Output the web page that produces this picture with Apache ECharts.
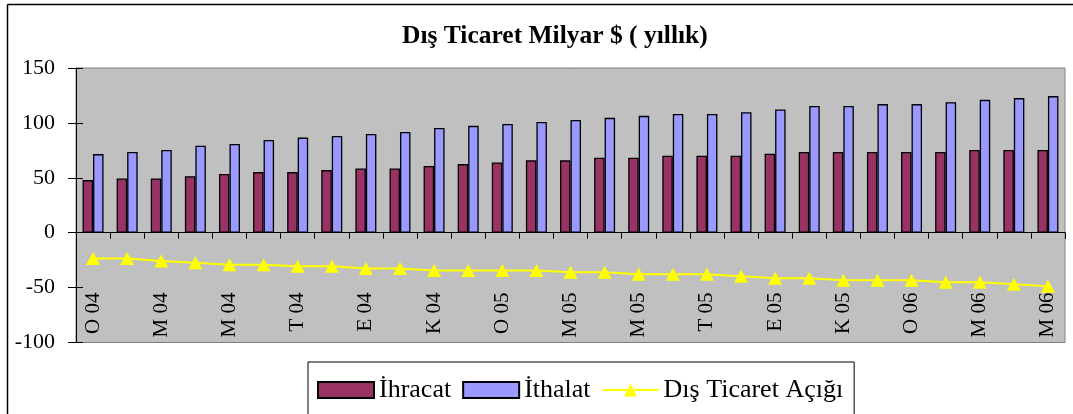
<!DOCTYPE html>
<html>
<head>
<meta charset="utf-8">
<script src="https://cdn.jsdelivr.net/npm/echarts@6/dist/echarts.min.js"></script>
<style>
html,body{margin:0;padding:0;background:#fff;}
#chart{width:1073px;height:414px;}
</style>
</head>
<body>
<div id="chart"></div>
<script>
// aylar: Ocak 2004 - Mayıs 2006
var aylar = ['O 04','Ş 04','M 04','N 04','M 04','H 04','T 04','A 04','E 04','E 04','K 04','A 04',
	'O 05','Ş 05','M 05','N 05','M 05','H 05','T 05','A 05','E 05','E 05','K 05','A 05',
	'O 06','Ş 06','M 06','N 06','M 06'];
var ihracat = [47.9,49.4,49.4,51.5,53.4,55.2,55.2,57.0,58.5,58.5,60.7,62.5,64.0,65.9,
	65.9,68.3,68.3,70.1,70.1,70.1,72.0,73.5,73.5,73.5,73.5,73.5,75.3,75.3,75.3];
var ithalat = [71.6,73.5,75.3,79.3,80.8,84.5,86.6,88.1,89.9,91.8,95.4,97.3,99.1,100.9,
	102.7,104.6,106.4,108.2,108.2,109.8,112.2,115.5,115.5,117.1,117.1,118.9,121.0,122.6,124.4];
var acik = [-23.6,-23.6,-25.8,-27.3,-29.1,-29.1,-30.6,-30.6,-32.7,-32.7,-34.5,-34.5,-34.5,-34.5,
	-36.1,-36.1,-37.9,-37.9,-37.9,-39.7,-41.5,-41.5,-43.3,-43.3,-43.3,-45.2,-45.2,-47.0,-48.8];
var yTicks = {min: -100, max: 150, interval: 50};

var font = '"Liberation Serif", "Times New Roman", serif';

var myChart = echarts.init(document.getElementById('chart'));
var option = {
	animation: false,
	title: {
		text: 'Dış Ticaret Milyar $ ( yıllık)',
		left: 402,
		top: 23,
		padding: 0,
		textStyle: {fontFamily: font, fontSize: 25.5, fontWeight: 'bold', color: '#000'}
	},
	graphic: [
		{type: 'line', shape: {x1: 7.5, y1: 4.5, x2: 1073, y2: 4.5}, style: {stroke: '#000', lineWidth: 1.5}},
		{type: 'line', shape: {x1: 7.5, y1: 4.5, x2: 7.5, y2: 414}, style: {stroke: '#000', lineWidth: 1.5}}
	],
	legend: {
		left: 308,
		top: 362,
		padding: [15, 11, 15, 9],
		itemGap: 11,
		itemWidth: 56,
		itemHeight: 16,
		borderColor: '#000',
		borderWidth: 1,
		textStyle: {fontFamily: font, fontSize: 26, color: '#000'},
		data: [
			{name: 'İhracat', icon: 'rect'},
			{name: 'İthalat', icon: 'rect'},
			{name: 'Dış Ticaret Açığı'}
		]
	},
	grid: {
		left: 76,
		right: 8,
		top: 68,
		bottom: 71.5,
		outerBoundsMode: 'none',
		containLabel: false,
		show: true,
		backgroundColor: '#c0c0c0',
		borderColor: '#808080',
		borderWidth: 1
	},
	xAxis: {
		type: 'category',
		data: aylar,
		axisLine: {onZero: true, lineStyle: {color: '#000', width: 1}},
		axisTick: {show: true, interval: 0, length: 6, lineStyle: {color: '#000'}},
		axisLabel: {
			interval: 1,
			rotate: 90,
			margin: -50,
			fontFamily: font,
			fontSize: 21,
			color: '#000'
		},
		splitLine: {show: false}
	},
	yAxis: [
		{
			type: 'value',
			min: yTicks.min,
			max: yTicks.max,
			interval: yTicks.interval,
			axisLine: {show: true, lineStyle: {color: '#000', width: 1}},
			axisTick: {show: true, length: 8, lineStyle: {color: '#000'}},
			axisLabel: {margin: 21, fontFamily: font, fontSize: 22, color: '#000'},
			splitLine: {show: false}
		},
		{
			type: 'value',
			position: 'left',
			min: yTicks.min,
			max: yTicks.max,
			interval: yTicks.interval,
			axisLine: {show: false},
			axisTick: {show: true, inside: true, length: 7, lineStyle: {color: '#000'}},
			axisLabel: {show: false},
			splitLine: {show: false}
		}
	],
	series: [
		{
			name: 'İhracat',
			type: 'bar',
			data: ihracat,
			barWidth: 10.5,
			barGap: '0%',
			itemStyle: {color: '#993366', borderColor: '#000', borderWidth: 1.3}
		},
		{
			name: 'İthalat',
			type: 'bar',
			data: ithalat,
			barWidth: 10.5,
			barGap: '0%',
			itemStyle: {color: '#9999ff', borderColor: '#000', borderWidth: 1.3}
		},
		{
			name: 'Dış Ticaret Açığı',
			type: 'line',
			data: acik,
			symbol: 'triangle',
			symbolSize: [14, 13],
			lineStyle: {color: '#ffff00', width: 2},
			itemStyle: {color: '#ffff00', borderWidth: 0}
		}
	]
};
myChart.setOption(option);
</script>
</body>
</html>
